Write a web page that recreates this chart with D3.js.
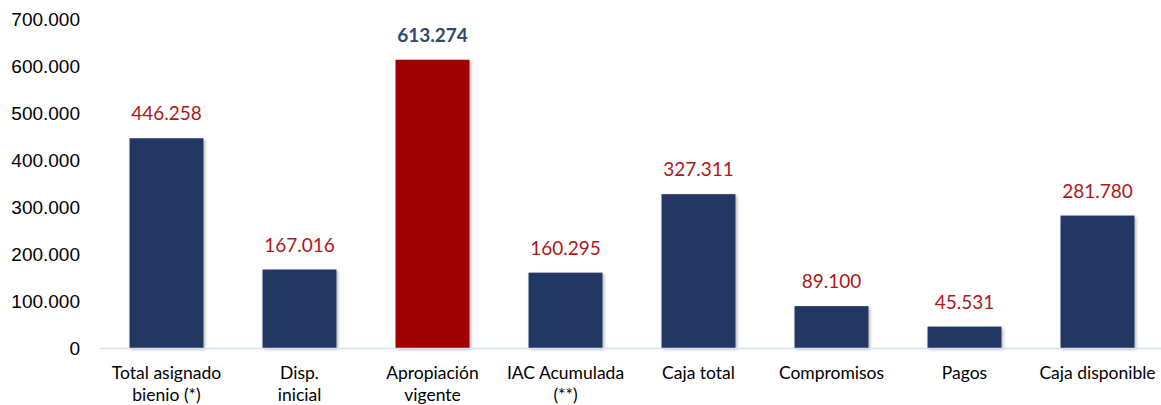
<!DOCTYPE html>
<html>
<head>
<meta charset="utf-8">
<script src="https://cdn.jsdelivr.net/npm/d3@7"></script>
<style>
  body { margin: 0; background: #fff; }
  svg { font-family: Lato, "Open Sans", sans-serif; }
</style>
</head>
<body>
<svg id="chart" width="1161" height="405"></svg>
<script>
// data
var categories = [["Total asignado", "bienio (*)"], ["Disp.", "inicial"], ["Apropiación", "vigente"],
  ["IAC Acumulada", "(**)"], ["Caja total"], ["Compromisos"], ["Pagos"], ["Caja disponible"]];
var values = [446258, 167016, 613274, 160295, 327311, 89100, 45531, 281780];
var yTicks = [0, 100000, 200000, 300000, 400000, 500000, 600000, 700000];
var highlight = 2; // the red bar

var fmt = function(v) {
  return d3.format(",")(v).replace(/,/g, ".");
};

var svg = d3.select("svg"),
    margin = {top: 19, right: -3, bottom: 57, left: 100},
    width = +svg.attr("width") - margin.left - margin.right,
    height = +svg.attr("height") - margin.top - margin.bottom,
    g = svg.append("g").attr("transform", "translate(" + margin.left + "," + margin.top + ")");

var defs = svg.append("defs");
var f = defs.append("filter").attr("id", "shadow").attr("x", "-10%").attr("y", "-10%").attr("width", "130%").attr("height", "130%");
f.append("feDropShadow").attr("dx", 1.5).attr("dy", 1.5).attr("stdDeviation", 1.5).attr("flood-color", "#000").attr("flood-opacity", 0.3);

var x = d3.scaleBand()
    .domain(d3.range(values.length))
    .range([0, width])
    .paddingInner(0.444)
    .paddingOuter(0.222);

var y = d3.scaleLinear()
    .domain([0, 700000])
    .range([height, 0]);

// y axis, no line
var yAxis = g.append("g")
    .call(d3.axisLeft(y).tickValues(yTicks).tickFormat(fmt).tickSize(0).tickPadding(20));
yAxis.select(".domain").remove();
yAxis.selectAll("text")
    .attr("fill", "#000")
    .style("font-size", "19px");

// bars
g.selectAll(".bar")
    .data(values)
  .enter().append("rect")
    .attr("class", "bar")
    .attr("x", function(d, i) { return x(i); })
    .attr("y", function(d) { return y(d); })
    .attr("width", x.bandwidth())
    .attr("height", function(d) { return height - y(d); })
    .attr("fill", function(d, i) { return i == highlight ? "#9e0000" : "#203864"; })
    .attr("filter", "url(#shadow)");

// baseline
g.append("line")
    .attr("x1", 0)
    .attr("x2", width)
    .attr("y1", y(0) + 0.5)
    .attr("y2", y(0) + 0.5)
    .attr("stroke", "#d5e0f0")
    .attr("stroke-width", 1.5);

// value labels
g.selectAll(".val")
    .data(values)
  .enter().append("text")
    .attr("class", "val")
    .attr("x", function(d, i) { return x(i) + x.bandwidth() / 2; })
    .attr("y", function(d) { return y(d) - 18; })
    .attr("text-anchor", "middle")
    .attr("fill", function(d, i) { return i == highlight ? "#2e4a70" : "#b01717"; })
    .style("font-size", "19px")
    .style("font-weight", function(d, i) { return i == highlight ? "bold" : "normal"; })
    .text(fmt);

// category labels
var cat = g.selectAll(".cat")
    .data(categories)
  .enter().append("text")
    .attr("class", "cat")
    .attr("x", function(d, i) { return x(i) + x.bandwidth() / 2; })
    .attr("y", height + 31)
    .attr("text-anchor", "middle")
    .attr("fill", "#000")
    .style("font-size", "17.5px");

cat.selectAll("tspan")
    .data(function(d) { return d; })
  .enter().append("tspan")
    .attr("x", function() { return d3.select(this.parentNode).attr("x"); })
    .attr("dy", function(d, i) { return i == 0 ? 0 : 22; })
    .text(function(d) { return d; });
</script>
</body>
</html>
